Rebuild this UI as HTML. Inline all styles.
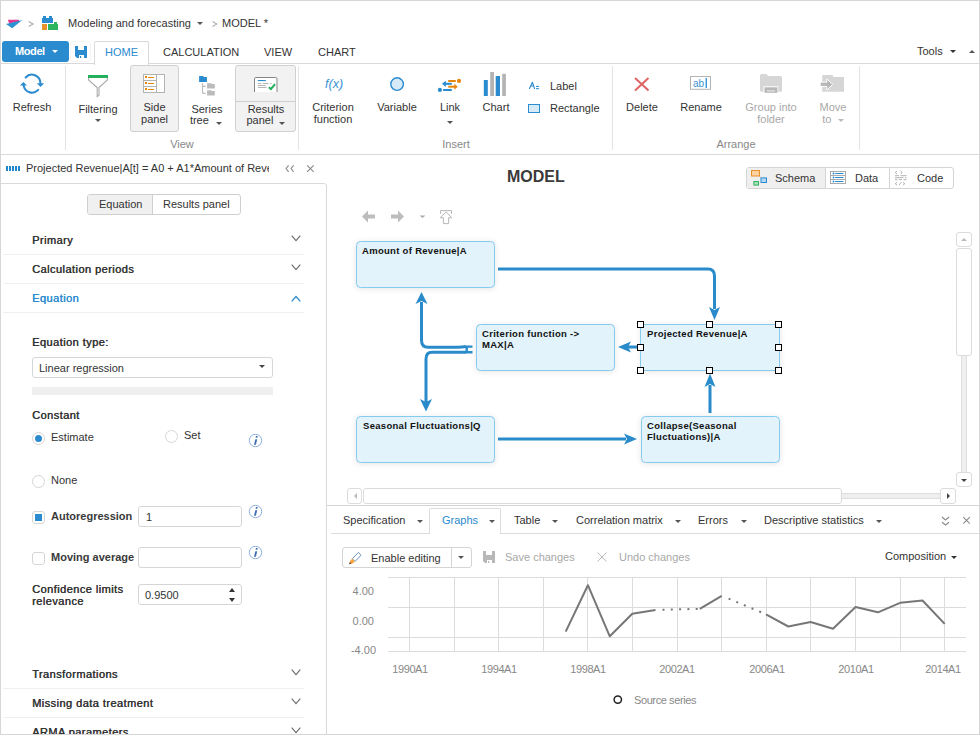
<!DOCTYPE html>
<html><head><meta charset="utf-8">
<style>
*{box-sizing:border-box;margin:0;padding:0}
html,body{width:980px;height:735px;overflow:hidden;background:#fff}
body{font-family:"Liberation Sans",sans-serif;font-size:11px;color:#333;position:relative}
.a{position:absolute;white-space:nowrap;line-height:13px}
.frame{position:absolute;left:0;top:0;width:980px;height:735px;border:1px solid #d6d6d6;pointer-events:none;z-index:50}
.hl{position:absolute;height:1px;background:#dcdcdc}
.vl{position:absolute;width:1px;background:#e3e3e3}
.c{text-align:center}
.g{color:#a8a8a8}
.b{font-weight:bold;color:#3a3a3a}
.sb{letter-spacing:0.45px;text-shadow:0.4px 0 0 currentColor}
.caret{position:absolute;width:0;height:0;border-left:3px solid transparent;border-right:3px solid transparent;border-top:3px solid #555}
svg{position:absolute;overflow:visible}
</style></head><body>
<div class="frame"></div>

<!-- ===== breadcrumb ===== -->
<svg style="left:0;top:0" width="980" height="40">
  <polygon points="8,19.8 19,19.8 19,21.5 9.5,23.5 8.5,22" fill="#e8398f"/>
  <polygon points="6,24 22.3,20 12.2,28.3" fill="#2e92d3"/>
  <polyline points="28.7,21.5 33,24 28.7,26.5" fill="none" stroke="#aaa" stroke-width="1.1"/>
  <path d="M42 18h11v5h-11z M43 16h3v2h-3z M49 16h3v2h-3z" fill="#2a8bcf"/>
  <rect x="42" y="24" width="5" height="6" fill="#e8922a"/>
  <path d="M48 24h10v6h-10z M54 22h3v2h-3z" fill="#2bb65e"/>
  <polygon points="197,22 203,22 200,25" fill="#555"/>
  <polyline points="212.5,21.5 216.8,24 212.5,26.5" fill="none" stroke="#b0b0b0" stroke-width="1.1"/>
</svg>
<div class="a" style="left:68px;top:17px">Modeling and forecasting</div>
<div class="a" style="left:222px;top:17px">MODEL *</div>

<!-- ===== tab row ===== -->
<div style="position:absolute;left:2px;top:41px;width:67px;height:21px;background:#2a8bcf;border-radius:3px"></div>
<div class="a" style="left:15px;top:45px;color:#fff;font-size:11px;font-weight:bold;letter-spacing:-0.4px">Model</div>
<div style="position:absolute;left:52px;top:50px;border-left:3px solid transparent;border-right:3px solid transparent;border-top:3px solid #fff"></div>
<div style="position:absolute;left:70px;top:41px;width:21px;height:21px;border:1px solid #f4f4f4;border-radius:3px"></div>
<svg style="left:75px;top:46px" width="12" height="12">
  <path d="M0 0H12V12H2L0 10Z" fill="#2a8bcf"/>
  <rect x="3" y="0" width="6" height="4" fill="#fff"/>
  <rect x="4" y="9" width="5" height="3" fill="#fff"/>
  <rect x="5" y="10" width="1.2" height="2" fill="#2a8bcf"/>
</svg>
<div class="hl" style="left:0;top:63px;width:980px;background:#d9d9d9"></div>
<div style="position:absolute;left:94px;top:41px;width:55px;height:24px;border:1px solid #d9d9d9;border-bottom:none;background:#fff;border-radius:2px 2px 0 0"></div>
<div class="a" style="left:105px;top:46px;color:#2a8bcf">HOME</div>
<div class="a" style="left:163px;top:46px">CALCULATION</div>
<div class="a" style="left:264px;top:46px">VIEW</div>
<div class="a" style="left:318px;top:46px">CHART</div>
<div class="a" style="left:917px;top:45px">Tools</div>
<div class="caret" style="left:950px;top:50px;border-top-color:#333"></div>
<div style="position:absolute;left:969px;top:50px;border-left:3px solid transparent;border-right:3px solid transparent;border-bottom:3px solid #555"></div>

<!-- ===== ribbon body ===== -->
<div class="hl" style="left:0;top:154px;width:980px;background:#d9d9d9"></div>
<div class="vl" style="left:65px;top:66px;height:84px"></div>
<div class="vl" style="left:298px;top:66px;height:84px"></div>
<div class="vl" style="left:612px;top:66px;height:84px"></div>
<div class="vl" style="left:859px;top:66px;height:84px"></div>

<!-- Refresh -->
<svg style="left:16px;top:70px" width="32" height="28">
  <path d="M9.6 7.5A8.5 8.5 0 0 1 24.4 13.2" fill="none" stroke="#2a8bcf" stroke-width="2" stroke-linecap="round"/>
  <polygon points="20.9,13.3 28.1,13.3 24.5,17" fill="#2a8bcf"/>
  <path d="M22.2 19.9A8.5 8.5 0 0 1 7.6 15.3" fill="none" stroke="#2a8bcf" stroke-width="2" stroke-linecap="round"/>
  <polygon points="3.9,15.5 11,15.5 7.4,11.9" fill="#2a8bcf"/>
</svg>
<div class="a c" style="left:2px;width:60px;top:101px">Refresh</div>

<!-- Filtering -->
<svg style="left:88px;top:75px" width="21" height="23">
  <rect x="0" y="0" width="20" height="3" fill="#22b05a"/>
  <path d="M0.6 3V5L9.2 12.6V21.6L11 20V12.6L19.4 5V3" fill="none" stroke="#aaa" stroke-width="1.1"/>
</svg>
<div class="a c" style="left:68px;width:60px;top:103px">Filtering</div>
<div class="caret" style="left:95px;top:119px"></div>

<!-- Side panel (pressed) -->
<div style="position:absolute;left:130px;top:65px;width:49px;height:67px;background:#f2f2f2;border:1px solid #d0d0d0;border-radius:3px"></div>
<svg style="left:143px;top:74px" width="23" height="20">
  <rect x="0.5" y="0.5" width="21" height="18" fill="#fff" stroke="#b3b3b3"/>
  <path d="M13.5 0.5V18.5M0.5 6.5H13.5M0.5 12.5H13.5" stroke="#b3b3b3"/>
  <g fill="#e8870f"><rect x="2" y="2" width="2" height="2"/><rect x="5" y="3" width="6" height="1"/>
  <rect x="2" y="8" width="2" height="2"/><rect x="5" y="9" width="6" height="1"/>
  <rect x="2" y="14" width="2" height="2"/><rect x="5" y="15" width="6" height="1"/></g>
</svg>
<div class="a c" style="left:130px;width:49px;top:101px;line-height:12px">Side<br>panel</div>

<!-- Series tree -->
<svg style="left:198px;top:75px" width="18" height="22">
  <path d="M1.1 1.1h3.9l1 1h2.9v4.8h-7.8z" fill="#2a8bcf"/>
  <path d="M4.5 8.3V17.6Q4.5 18.4 5.3 18.4H7.6M4.5 11.4H7.6" fill="none" stroke="#bbb" stroke-width="1.1"/>
  <path d="M9.1 8.2h3.9l0.9 0.9h2.9v4.5h-7.7z" fill="#bbb"/>
  <path d="M9.1 15.2h3.9l0.9 0.9h2.9v4.5h-7.7z" fill="#bbb"/>
</svg>
<div class="a c" style="left:182px;width:50px;top:104px;line-height:11px">Series<br>tree&nbsp;&nbsp;&nbsp;&nbsp;&nbsp;</div>
<div class="caret" style="left:216px;top:122px"></div>

<!-- Results panel (pressed split) -->
<div style="position:absolute;left:235px;top:65px;width:61px;height:67px;background:#f2f2f2;border:1px solid #d0d0d0;border-radius:3px"></div>
<div class="hl" style="left:236px;top:101px;width:59px;background:#cfcfcf"></div>
<svg style="left:254px;top:77px" width="25" height="16">
  <path d="M0.5 15V1.8Q0.5 0.5 1.8 0.5H21.7Q23 0.5 23 1.8V15" fill="#fff" stroke="#858585"/>
  <rect x="3.8" y="3" width="8" height="1.1" fill="#2a8bcf"/>
  <g fill="#b5b5b5"><rect x="3.8" y="6" width="3.6" height="1"/><rect x="8.8" y="6" width="5.6" height="1"/><rect x="15.8" y="6" width="1.8" height="1"/>
  <rect x="3.8" y="8" width="7.8" height="1"/><rect x="3.8" y="10" width="8.8" height="1"/></g>
  <polyline points="14.8,10.2 16.9,12 21.1,7.2" fill="none" stroke="#22b05a" stroke-width="2"/>
</svg>
<div class="a c" style="left:236px;width:60px;top:104px;line-height:11px">Results<br>panel&nbsp;&nbsp;&nbsp;&nbsp;</div>
<div class="caret" style="left:279px;top:122px"></div>

<div class="a c" style="left:160px;width:44px;top:138px;color:#888">View</div>

<!-- Insert group -->
<div class="a" style="left:325px;top:78px;color:#3b93d3;font-style:italic;font-size:12.5px">f(x)</div>
<div class="a c" style="left:303px;width:60px;top:101px;line-height:12px">Criterion<br>function</div>
<svg style="left:389px;top:76px" width="17" height="17">
  <circle cx="8.1" cy="8.1" r="6.3" fill="#d6eaf8" stroke="#2a8bcf" stroke-width="1.4"/>
</svg>
<div class="a c" style="left:367px;width:60px;top:101px">Variable</div>
<svg style="left:437px;top:78px" width="26" height="15">
  <path d="M11.2 3h7.6" stroke="#e8870f" stroke-width="2"/>
  <circle cx="22" cy="2.9" r="2.1" fill="#e8870f"/>
  <path d="M8 5.8h6.8" stroke="#2a8bcf" stroke-width="2"/>
  <polygon points="5,5.8 8.8,2.8 8.8,8.9" fill="#2a8bcf"/>
  <path d="M11.2 8.7h7" stroke="#e8870f" stroke-width="2"/>
  <polygon points="20.8,8.7 17.3,5.8 17.3,11.8" fill="#e8870f"/>
  <path d="M6.1 12h8.7" stroke="#2a8bcf" stroke-width="2"/>
  <circle cx="2.9" cy="11.9" r="2.1" fill="#2a8bcf"/>
</svg>
<div class="a c" style="left:420px;width:60px;top:101px">Link</div>
<div class="caret" style="left:447px;top:121px"></div>
<svg style="left:483px;top:71px" width="24" height="26">
  <rect x="0.8" y="9" width="4" height="16" fill="#2a8bcf"/>
  <rect x="7.2" y="1" width="3.8" height="24" fill="#b4b4b4"/>
  <rect x="12.7" y="5" width="4.3" height="20" fill="#2a8bcf"/>
  <rect x="19.2" y="2.8" width="3.7" height="22.2" fill="#b4b4b4"/>
</svg>
<div class="a c" style="left:466px;width:60px;top:101px">Chart</div>
<svg style="left:528px;top:81px" width="12" height="9">
  <path d="M1.5 7.6L4.4 1.3L6.6 7.6M2.6 5H5.8" fill="none" stroke="#2a8bcf" stroke-width="1.1" stroke-linecap="round" stroke-linejoin="round"/>
  <rect x="8.1" y="4.9" width="2.8" height="1.1" fill="#2a8bcf"/><rect x="8.1" y="7.1" width="2.8" height="1.1" fill="#2a8bcf"/>
</svg>
<div class="a" style="left:550px;top:80px">Label</div>
<div style="position:absolute;left:528px;top:104px;width:12px;height:9px;background:#d6eaf8;border:1px solid #2a8bcf"></div>
<div class="a" style="left:550px;top:102px">Rectangle</div>
<div class="a c" style="left:430px;width:52px;top:138px;color:#888">Insert</div>

<!-- Arrange group -->
<svg style="left:634px;top:77px" width="16" height="14">
  <path d="M1 1L14.5 13.5M14.5 1L1 13.5" stroke="#e06464" stroke-width="2"/>
</svg>
<div class="a c" style="left:612px;width:60px;top:101px">Delete</div>
<svg style="left:690px;top:76px" width="22" height="15">
  <rect x="0.5" y="0.5" width="20" height="12.8" fill="#fff" stroke="#b3b3b3"/>
  <text x="3" y="11" font-size="10" font-family="Liberation Sans" fill="#3d92d2">ab</text>
  <rect x="15.6" y="2" width="1.3" height="10" fill="#2a8bcf"/>
</svg>
<div class="a c" style="left:671px;width:60px;top:101px">Rename</div>
<svg style="left:760px;top:74px" width="23" height="20">
  <path d="M0 1.5Q0 0 1.5 0H6.5L8 2H20.5Q22 2 22 3.5V16.3Q22 17.8 20.5 17.8H1.5Q0 17.8 0 16.3Z" fill="#d6d6d6"/>
  <rect x="3.5" y="12.3" width="14.8" height="7" fill="#fff"/>
  <rect x="4.5" y="13.3" width="13" height="5.5" fill="#b8b8b8"/>
  <rect x="7" y="16.3" width="8" height="1.2" fill="#e6e6e6"/>
</svg>
<div class="a c g" style="left:741px;width:60px;top:101px;line-height:12px">Group into<br>folder</div>
<svg style="left:819px;top:74px" width="27" height="20">
  <path d="M3.2 1H13.5L14.5 3H25V17.8H3.2Z" fill="#d6d6d6"/>
  <path d="M1.2 8.1H7.8V4.9L13.7 10.3L7.8 16.2V12.5H1.2Z" fill="#b8b8b8" stroke="#fff" stroke-width="1"/>
</svg>
<div class="a c g" style="left:803px;width:60px;top:101px;line-height:12px">Move<br>to&nbsp;&nbsp;&nbsp;&nbsp;</div>
<div class="caret" style="left:838px;top:119px;border-top-color:#bbb"></div>
<div class="a c" style="left:706px;width:60px;top:138px;color:#888">Arrange</div>

<!-- ===== left panel ===== -->
<svg style="left:6px;top:166px" width="16" height="6">
  <g fill="#1f86cb"><rect x="0" y="0" width="2" height="5"/><rect x="3" y="0" width="2" height="5"/><rect x="6" y="0" width="2" height="5"/><rect x="9" y="0" width="2" height="5"/><rect x="12" y="0" width="2" height="5"/></g>
</svg>
<div class="a" style="left:26px;top:162px;width:243px;overflow:hidden;font-size:11px">Projected Revenue|A[t] = A0 + A1*Amount of Revenue|A[t]</div>
<svg style="left:285px;top:165px" width="30" height="8">
  <g fill="none" stroke="#8a8a8a" stroke-width="1.1">
  <polyline points="3.6,0.3 1.1,3.5 3.6,6.8"/>
  <polyline points="8.6,0.3 6.1,3.5 8.6,6.8"/>
  <path d="M22.1 0.3L28.7 6.8M28.7 0.3L22.1 6.8"/>
  </g>
</svg>
<div style="position:absolute;left:-4px;top:183px;width:331px;height:560px;border:1px solid #d9d9d9;border-radius:3px"></div>

<!-- segmented -->
<div style="position:absolute;left:87px;top:194px;width:154px;height:21px;border:1px solid #cfcfcf;border-radius:3px;overflow:hidden">
  <div style="position:absolute;left:0;top:0;width:65px;height:19px;background:#f0f0f0;border-right:1px solid #cfcfcf"></div>
</div>
<div class="a" style="left:99px;top:198px">Equation</div>
<div class="a" style="left:163px;top:198px">Results panel</div>

<!-- accordion -->
<div class="a sb" style="left:32px;top:234px">Primary</div>
<div class="hl" style="left:3px;top:254px;width:301px;background:#efefef"></div>
<div class="a sb" style="left:32px;top:263px">Calculation periods</div>
<div class="hl" style="left:3px;top:283px;width:301px;background:#efefef"></div>
<div class="a sb" style="left:32px;top:292px;color:#2a8bcf">Equation</div>
<div class="hl" style="left:3px;top:312px;width:301px;background:#efefef"></div>
<svg style="left:291px;top:235px" width="11" height="70">
  <polyline points="0.7,0.7 5,5.6 9.3,0.7" fill="none" stroke="#6a6a6a" stroke-width="1.1"/>
  <polyline points="0.7,29.7 5,34.6 9.3,29.7" fill="none" stroke="#6a6a6a" stroke-width="1.1"/>
  <polyline points="0.7,66.4 5,61.5 9.3,66.4" fill="none" stroke="#2a8bcf" stroke-width="1.3"/>
</svg>

<div class="a sb" style="left:32px;top:336px">Equation type:</div>
<div style="position:absolute;left:32px;top:357px;width:241px;height:21px;border:1px solid #d6d6d6;border-radius:3px"></div>
<div class="a" style="left:39px;top:362px">Linear regression</div>
<div style="position:absolute;left:259px;top:365px;border-left:3.5px solid transparent;border-right:3.5px solid transparent;border-top:3.5px solid #444"></div>
<div style="position:absolute;left:32px;top:387px;width:241px;height:8px;background:#efefef"></div>

<div class="a sb" style="left:32px;top:409px">Constant</div>
<div style="position:absolute;left:32px;top:432px;width:13px;height:13px;border:1px solid #d6d6d6;border-radius:50%"></div>
<div style="position:absolute;left:35px;top:435px;width:7px;height:7px;background:#2a8bcf;border-radius:50%"></div>
<div class="a" style="left:51px;top:431px">Estimate</div>
<div style="position:absolute;left:165px;top:430px;width:13px;height:13px;border:1px solid #d6d6d6;border-radius:50%"></div>
<div class="a" style="left:184px;top:429px">Set</div>
<div style="position:absolute;left:32px;top:475px;width:13px;height:13px;border:1px solid #d6d6d6;border-radius:50%"></div>
<div class="a" style="left:51px;top:474px">None</div>

<svg style="left:248px;top:434px" width="15" height="15">
  <circle cx="7.5" cy="6.5" r="6.2" fill="none" stroke="#8eb0dc" stroke-width="1"/>
  <polygon points="7.3,5.3 9.2,5.3 7.9,10.8 6.0,10.8" fill="#3f6db0"/>
  <polygon points="7.9,2.1 9.7,2.1 9.4,3.8 7.6,3.8" fill="#3f6db0"/>
</svg>

<div style="position:absolute;left:32px;top:511px;width:13px;height:13px;border:1px solid #d6d6d6;border-radius:3px"></div>
<div style="position:absolute;left:35px;top:514px;width:7px;height:7px;background:#2a8bcf"></div>
<div class="a b" style="left:51px;top:510px">Autoregression</div>
<div style="position:absolute;left:138px;top:506px;width:104px;height:21px;border:1px solid #d6d6d6;border-radius:3px"></div>
<div class="a" style="left:146px;top:511px">1</div>
<svg style="left:248px;top:505px" width="15" height="15">
  <circle cx="7.5" cy="6.5" r="6.2" fill="none" stroke="#8eb0dc" stroke-width="1"/>
  <polygon points="7.3,5.3 9.2,5.3 7.9,10.8 6.0,10.8" fill="#3f6db0"/>
  <polygon points="7.9,2.1 9.7,2.1 9.4,3.8 7.6,3.8" fill="#3f6db0"/>
</svg>

<div style="position:absolute;left:32px;top:552px;width:13px;height:13px;border:1px solid #d6d6d6;border-radius:3px"></div>
<div class="a b" style="left:51px;top:551px">Moving average</div>
<div style="position:absolute;left:138px;top:547px;width:104px;height:21px;border:1px solid #d6d6d6;border-radius:3px"></div>
<svg style="left:248px;top:546px" width="15" height="15">
  <circle cx="7.5" cy="6.5" r="6.2" fill="none" stroke="#8eb0dc" stroke-width="1"/>
  <polygon points="7.3,5.3 9.2,5.3 7.9,10.8 6.0,10.8" fill="#3f6db0"/>
  <polygon points="7.9,2.1 9.7,2.1 9.4,3.8 7.6,3.8" fill="#3f6db0"/>
</svg>

<div class="a sb" style="left:32px;top:583px;line-height:12px">Confidence limits<br>relevance</div>
<div style="position:absolute;left:138px;top:584px;width:104px;height:21px;border:1px solid #d6d6d6;border-radius:3px"></div>
<div class="a" style="left:145px;top:589px">0.9500</div>
<div style="position:absolute;left:229px;top:588px;border-left:3px solid transparent;border-right:3px solid transparent;border-bottom:4px solid #333"></div>
<div style="position:absolute;left:229px;top:598px;border-left:3px solid transparent;border-right:3px solid transparent;border-top:4px solid #333"></div>

<div class="a sb" style="left:32px;top:668px">Transformations</div>
<div class="hl" style="left:3px;top:688px;width:301px;background:#efefef"></div>
<div class="a sb" style="left:32px;top:697px">Missing data treatment</div>
<div class="hl" style="left:3px;top:717px;width:301px;background:#efefef"></div>
<div class="a sb" style="left:32px;top:726px">ARMA parameters</div>
<svg style="left:291px;top:669px" width="11" height="70">
  <polyline points="0.7,0.7 5,5.6 9.3,0.7" fill="none" stroke="#6a6a6a" stroke-width="1.1"/>
  <polyline points="0.7,29.7 5,34.6 9.3,29.7" fill="none" stroke="#6a6a6a" stroke-width="1.1"/>
  <polyline points="0.7,58.7 5,63.6 9.3,58.7" fill="none" stroke="#6a6a6a" stroke-width="1.1"/>
</svg>

<!-- ===== model area ===== -->
<div class="a b" style="left:507px;top:168px;font-size:16px;line-height:18px">MODEL</div>


<!-- toggle schema/data/code -->
<div style="position:absolute;left:746px;top:167px;width:208px;height:22px;border:1px solid #d4d4d4;border-radius:3px;overflow:hidden">
  <div style="position:absolute;left:0;top:0;width:79px;height:20px;background:#efefef;border-right:1px solid #d4d4d4"></div>
  <div style="position:absolute;left:142px;top:0;width:1px;height:20px;background:#d4d4d4"></div>
</div>
<svg style="left:750px;top:169px" width="19" height="18">
  <rect x="1.5" y="1.5" width="8" height="5.5" fill="#fbd2a4" stroke="#e8922a" stroke-width="1"/>
  <rect x="11" y="8.9" width="5.5" height="4.6" fill="#b3d8f3" stroke="#2a8bcf" stroke-width="1"/>
  <rect x="3.9" y="12.5" width="4.6" height="3.6" fill="#a8e0ba" stroke="#2fb35c" stroke-width="1"/>
  <path d="M9.5 7.2L11.2 8.9" stroke="#aaa" stroke-width="0.8"/>
</svg>
<div class="a" style="left:775px;top:172px">Schema</div>
<svg style="left:830px;top:171px" width="17" height="14">
  <rect x="0.5" y="0.5" width="15" height="12" fill="#fff" stroke="#aaa"/>
  <path d="M0.5 4.5h15M0.5 8.5h15" stroke="#aaa"/>
  <g fill="#2a8bcf"><circle cx="3.5" cy="2.5" r="0.9"/><circle cx="3.5" cy="6.5" r="0.9"/><circle cx="3.5" cy="10.5" r="0.9"/></g>
  <path d="M5.6 2.5h7.4M5.6 6.5h7.4M5.6 10.5h7.4" stroke="#2a8bcf" stroke-width="1.2" stroke-linecap="round"/>
</svg>
<div class="a" style="left:855px;top:172px">Data</div>
<svg style="left:894px;top:170px" width="15" height="17">
  <g fill="none" stroke="#b0b0b0" stroke-width="1">
  <polyline points="3,1 1.2,2.5 3,4"/><polyline points="6.5,1 8.3,2.5 6.5,4"/>
  <polyline points="3,12.3 1.2,13.7 3,15.2"/><polyline points="9,12.3 10.8,13.7 9,15.2"/>
  <path d="M5 15L7.4 12.3"/>
  <path d="M1 5.7h4M6.5 5.7h6M1 7.7h8.5M11 7.7h1.5M1 9.7h2.5M5 9.7h3M9.5 9.7h3"/>
  </g>
</svg>
<div class="a" style="left:917px;top:172px">Code</div>

<!-- nav icons -->
<svg style="left:360px;top:208px" width="95" height="17">
  <path d="M2 8.5l6-6v4h7v4h-7v4z" fill="#bdbdbd"/>
  <path d="M44 8.5l-6-6v4h-7v4h7v4z" fill="#bdbdbd"/>
  <polygon points="59.5,7.5 65.5,7.5 62.5,10" fill="#aaa"/>
  <path d="M80.5 5.8V2.6H91.5V5.8" fill="none" stroke="#b8b8b8" stroke-width="1"/><path d="M86 3.8L91.8 9.8H88.6V15.6H83.4V9.8H80.2Z" fill="#fff" stroke="#b8b8b8" stroke-width="1"/>
</svg>

<!-- vertical scrollbar -->
<div style="position:absolute;left:956px;top:232px;width:16px;height:15px;border:1px solid #dcdcdc;border-radius:3px;background:#fff"></div>
<div style="position:absolute;left:961px;top:238px;border-left:3px solid transparent;border-right:3px solid transparent;border-bottom:3px solid #bbb"></div>
<div style="position:absolute;left:956px;top:248px;width:16px;height:108px;border:1px solid #dcdcdc;border-radius:3px;background:#fff"></div>
<div style="position:absolute;left:961px;top:356px;width:6px;height:117px;border:1px solid #dedede;border-top:none;border-bottom:none;background:#efefef"></div>
<div style="position:absolute;left:956px;top:472px;width:16px;height:15px;border:1px solid #dcdcdc;border-radius:3px;background:#fff"></div>
<div style="position:absolute;left:961px;top:479px;border-left:3px solid transparent;border-right:3px solid transparent;border-top:3px solid #444"></div>

<!-- horizontal scrollbar -->
<div style="position:absolute;left:347px;top:488px;width:15px;height:16px;border:1px solid #dcdcdc;border-radius:3px;background:#fff"></div>
<div style="position:absolute;left:354px;top:493px;border-top:3px solid transparent;border-bottom:3px solid transparent;border-right:3px solid #bbb"></div>
<div style="position:absolute;left:363px;top:488px;width:479px;height:16px;border:1px solid #dcdcdc;border-radius:3px;background:#fff"></div>
<div style="position:absolute;left:842px;top:493px;width:99px;height:6px;border:1px solid #dedede;border-left:none;border-right:none;background:#efefef"></div>
<div style="position:absolute;left:940px;top:488px;width:16px;height:16px;border:1px solid #dcdcdc;border-radius:3px;background:#fff"></div>
<div style="position:absolute;left:947px;top:493px;border-top:3px solid transparent;border-bottom:3px solid transparent;border-left:3px solid #444"></div>

<!-- diagram -->
<svg style="left:0;top:0" width="980" height="505">
  <defs>
    <filter id="sh" x="-20%" y="-30%" width="140%" height="160%"><feGaussianBlur stdDeviation="3"/></filter>
    <marker id="ah" viewBox="0 0 12 12" refX="11" refY="6" markerWidth="12" markerHeight="12" markerUnits="userSpaceOnUse" orient="auto">
      <path d="M0 0L12 6L0 12L3 6z" fill="#2a8bcb"/>
    </marker>
  </defs>
  <g fill="#000" opacity="0.10" filter="url(#sh)">
    <rect x="356" y="242" width="139" height="47" rx="4"/>
    <rect x="476" y="325" width="139" height="47" rx="4"/>
    <rect x="356" y="417" width="139" height="47" rx="4"/>
    <rect x="641" y="417" width="139" height="47" rx="4"/>
    <rect x="641" y="325" width="139" height="47"/>
  </g>
  <g fill="#e2f3fb" stroke="#86caee" stroke-width="1">
    <rect x="356.5" y="241.5" width="138" height="46" rx="4"/>
    <rect x="476.5" y="324.5" width="138" height="46" rx="4"/>
    <rect x="356.5" y="416.5" width="138" height="46" rx="4"/>
    <rect x="641.5" y="416.5" width="138" height="46" rx="4"/>
    <rect x="640.5" y="324.5" width="139" height="46"/>
  </g>
  <g fill="none" stroke="#2a8bcb" stroke-width="3">
    <path d="M498 269H708Q714.5 269 714.5 276V309" />
    <path d="M639 347H628"/>
    <path d="M710 413V385"/>
    <path d="M498 439H626"/>
    <path d="M466 346.5Q462 347.3 458 347.3H428Q421.5 347.3 421.5 340V302"/>
    <path d="M466 352.3H432Q426 352.3 426 359V402"/>
  </g>
  <g fill="#2a8bcb">
    <path d="M714.5 320L709 307L714.5 310L720 307z"/>
    <path d="M618 347L631 341.5L628 347L631 352.5z"/>
    <path d="M710 373.5L704.5 387L710 384L715.5 387z"/>
    <path d="M637 439L624 433.5L627 439L624 444.5z"/>
    <path d="M421.5 292L415.5 304L421.5 301L427.5 304z"/>
    <path d="M426 411.5L420 399L426 402L432 399z"/>
    <path d="M465.5 345.5h7v2.2h-4.6v3.4h4.6v2.4h-7z"/>
  </g>
  <g fill="#fff" stroke="#000" stroke-width="1">
    <rect x="637.5" y="321.5" width="6" height="6"/>
    <rect x="706.5" y="321.5" width="6" height="6"/>
    <rect x="775.5" y="321.5" width="6" height="6"/>
    <rect x="637.5" y="344.5" width="6" height="6"/>
    <rect x="775.5" y="344.5" width="6" height="6"/>
    <rect x="637.5" y="367.5" width="6" height="6"/>
    <rect x="706.5" y="367.5" width="6" height="6"/>
    <rect x="775.5" y="367.5" width="6" height="6"/>
  </g>
  <g font-family="Liberation Sans" font-weight="bold" font-size="9.5" letter-spacing="0.3" fill="#111">
    <text x="362" y="254">Amount of Revenue|A</text>
    <text x="482" y="337">Criterion function -&gt;</text>
    <text x="482" y="348">MAX|A</text>
    <text x="647" y="337">Projected Revenue|A</text>
    <text x="363" y="429">Seasonal Fluctuations|Q</text>
    <text x="647" y="429">Collapse(Seasonal</text>
    <text x="647" y="440">Fluctuations)|A</text>
  </g>
</svg>

<!-- ===== bottom panel ===== -->
<div class="hl" style="left:327px;top:505px;width:653px;background:#d4d4d4"></div>
<div class="hl" style="left:331px;top:533px;width:648px;background:#dcdcdc"></div>
<div style="position:absolute;left:429px;top:508px;width:72px;height:26px;border:1px solid #dcdcdc;border-bottom:none;background:#fff;border-radius:2px 2px 0 0"></div>
<div class="a" style="left:343px;top:514px">Specification</div>
<div class="caret" style="left:417px;top:520px"></div>
<div class="a" style="left:442px;top:514px;color:#2a8bcf">Graphs</div>
<div class="caret" style="left:489px;top:520px"></div>
<div class="a" style="left:514px;top:514px">Table</div>
<div class="caret" style="left:552px;top:520px"></div>
<div class="a" style="left:576px;top:514px">Correlation matrix</div>
<div class="caret" style="left:675px;top:520px"></div>
<div class="a" style="left:698px;top:514px">Errors</div>
<div class="caret" style="left:741px;top:520px"></div>
<div class="a" style="left:764px;top:514px">Descriptive statistics</div>
<div class="caret" style="left:876px;top:520px"></div>
<svg style="left:940px;top:515px" width="32" height="12">
  <g fill="none" stroke="#8a8a8a" stroke-width="1.1">
  <polyline points="2,2 5.5,5 9,2"/>
  <polyline points="2,7.2 5.5,10 9,7.2"/>
  <path d="M23.3 2.2L29.8 8.6M29.8 2.2L23.3 8.6"/>
  </g>
</svg>

<!-- toolbar -->
<div style="position:absolute;left:342px;top:547px;width:130px;height:21px;border:1px solid #d4d4d4;border-radius:3px"></div>
<div class="vl" style="left:451px;top:548px;height:19px;background:#d4d4d4"></div>
<svg style="left:348px;top:550px" width="15" height="16">
  <path d="M4.3 8.7L10.3 2.5L13 5.2L7 11.4Z" fill="#fff" stroke="#5b86b8" stroke-width="0.9"/>
  <path d="M2.3 10.6L4.3 8.7L7 11.4L5 13.3Z" fill="#f6a93c"/>
  <path d="M1.2 14.2L2.3 10.6L5 13.3Z" fill="#ea8a2c"/>
  <path d="M1.1 14.3L1.7 12.3L3.1 13.7Z" fill="#444"/>
</svg>
<div class="a" style="left:371px;top:552px">Enable editing</div>
<div class="caret" style="left:458px;top:556px"></div>
<svg style="left:483px;top:551px" width="12" height="12">
  <path d="M0 0H12V12H2L0 10Z" fill="#b8b8b8"/>
  <rect x="3" y="0" width="6" height="4" fill="#fff"/>
  <rect x="4" y="9" width="5" height="3" fill="#fff"/>
  <rect x="5" y="10" width="1.2" height="2" fill="#b8b8b8"/>
</svg>
<div class="a g" style="left:505px;top:551px">Save changes</div>
<svg style="left:597px;top:552px" width="11" height="11">
  <path d="M0.5 0.5l9 9M9.5 0.5l-9 9" stroke="#bbb"/>
</svg>
<div class="a g" style="left:619px;top:551px">Undo changes</div>
<div class="a" style="left:885px;top:550px">Composition</div>
<div class="caret" style="left:951px;top:556px;border-top-color:#333"></div>

<!-- chart -->
<svg style="left:0;top:0" width="980" height="735">
  <g stroke="#dcdcdc" stroke-width="1">
    <path d="M388 577.5H966 M388 607.5H966 M388 637.5H966 M388 651.5H966"/>
    <path d="M409.5 577V651 M454.5 577V651 M498.5 577V651 M543.5 577V651 M587.5 577V651 M632.5 577V651 M677.5 577V651 M721.5 577V651 M766.5 577V651 M810.5 577V651 M855.5 577V651 M900.5 577V651 M944.5 577V651"/>
  </g>
  <g fill="none" stroke="#777" stroke-width="2" stroke-linejoin="round">
    <polyline points="565.7,631.6 587.9,585.2 609.8,636.3 632.3,613.8 655.5,610"/>
    <polyline points="699.8,608.9 721.7,595.8"/>
    <polyline points="766,614.3 788.3,626.5 810.6,622 833,628.8 855.6,607 877.9,612.3 900.2,602.8 922.5,600.5 944.7,623.9"/>
  </g>
  <g fill="none" stroke="#777" stroke-width="2" stroke-dasharray="2 6.3">
    <polyline points="662.5,609.7 699.8,608.9"/>
    <polyline points="728.6,598.6 766,614.3"/>
  </g>
  <circle cx="617.8" cy="699.6" r="3.7" fill="none" stroke="#222" stroke-width="1.5"/>
</svg>
<div class="a" style="left:340px;top:585px;width:34px;text-align:right;color:#888">4.00</div>
<div class="a" style="left:340px;top:615px;width:34px;text-align:right;color:#888">0.00</div>
<div class="a" style="left:342px;top:644px;width:34px;text-align:right;color:#888">-4.00</div>
<div class="a c" style="left:380px;width:60px;top:663px;color:#888;letter-spacing:-0.4px">1990A1</div>
<div class="a c" style="left:469px;width:60px;top:663px;color:#888;letter-spacing:-0.4px">1994A1</div>
<div class="a c" style="left:558px;width:60px;top:663px;color:#888;letter-spacing:-0.4px">1998A1</div>
<div class="a c" style="left:647px;width:60px;top:663px;color:#888;letter-spacing:-0.4px">2002A1</div>
<div class="a c" style="left:737px;width:60px;top:663px;color:#888;letter-spacing:-0.4px">2006A1</div>
<div class="a c" style="left:826px;width:60px;top:663px;color:#888;letter-spacing:-0.4px">2010A1</div>
<div class="a c" style="left:913px;width:60px;top:663px;color:#888;letter-spacing:-0.4px">2014A1</div>
<div class="a" style="left:634px;top:694px;color:#888;letter-spacing:-0.4px">Source series</div>

</body></html>
